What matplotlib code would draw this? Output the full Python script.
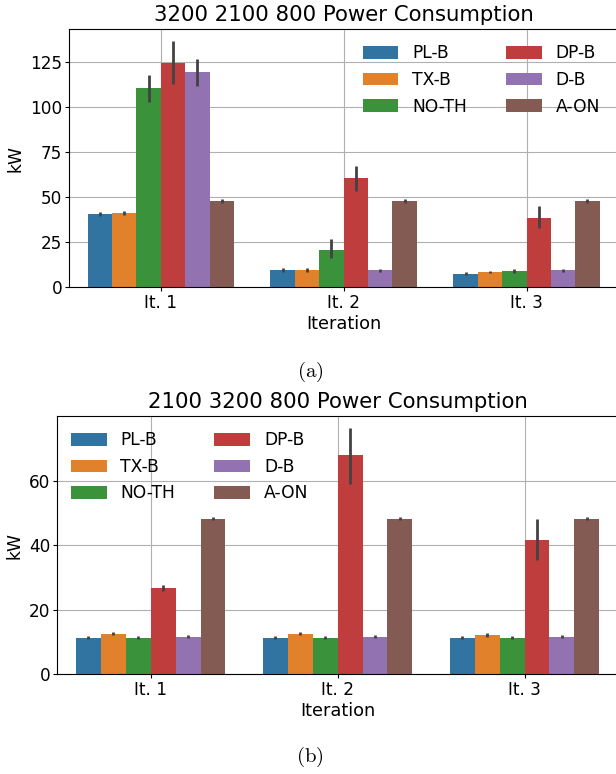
import numpy as np
import matplotlib
matplotlib.use("Agg")
import matplotlib.pyplot as plt

plt.rcParams['mathtext.fontset'] = 'cm'

# Kategorien
iterations = ["It. 1", "It. 2", "It. 3"]
methods = ["PL-B", "TX-B", "NO-TH", "DP-B", "D-B", "A-ON"]
colors = ["#3274a1", "#e1812c", "#3a923a", "#c03d3e", "#9372b2", "#845b53"]

# (a) 3200 2100 800 -- Mittelwert, untere/obere Fehlergrenze je Methode
a_mean = [[40.7, 9.6, 7.4], [41.3, 9.6, 8.5], [110.7, 20.7, 9.1],
          [124.8, 60.7, 38.5], [119.6, 9.6, 9.6], [48.0, 48.0, 48.0]]
a_lo = [[39.6, 8.5, 6.6], [40.2, 8.5, 7.8], [103.1, 16.5, 8.0],
        [113.1, 53.5, 33.1], [112.0, 8.7, 8.7], [46.9, 46.9, 46.9]]
a_hi = [[41.9, 10.7, 8.3], [42.4, 10.7, 9.1], [118.0, 26.9, 10.2],
        [136.9, 67.4, 45.4], [126.9, 10.4, 10.4], [49.1, 49.1, 49.1]]

# (b) 2100 3200 800
b_mean = [[11.2, 11.2, 11.2], [12.4, 12.4, 12.1], [11.2, 11.2, 11.2],
          [26.7, 67.8, 41.7], [11.5, 11.5, 11.5], [48.2, 48.2, 48.2]]
b_lo = [[10.9, 10.9, 10.9], [12.0, 12.0, 11.6], [10.9, 10.9, 10.9],
        [25.8, 58.8, 35.4], [11.2, 11.2, 11.2], [47.6, 47.6, 47.6]]
b_hi = [[11.7, 11.7, 11.7], [12.9, 12.9, 12.6], [11.7, 11.7, 11.7],
        [27.7, 76.2, 48.2], [12.0, 12.0, 12.0], [48.8, 48.8, 48.8]]

fs = 12.2

def barplot(ax, mean, lo, hi, title, ymax, leg_anchor):
    x = np.arange(len(iterations))
    n = len(methods)
    w = 0.8 / n
    for i, m in enumerate(methods):
        xs = x - 0.4 + w * (i + 0.5)
        ax.bar(xs, mean[i], width=w, color=colors[i], label=m, zorder=2)
        ax.vlines(xs, lo[i], hi[i], color="#424242", lw=2, zorder=3)
    ax.set_xticks(x)
    ax.set_xticklabels(iterations)
    ax.set_xlim(-0.5, 2.5)
    ax.set_ylim(0, ymax)
    ax.set_axisbelow(True)
    ax.grid(True, color="#b0b0b0", lw=0.8)
    ax.tick_params(labelsize=fs, length=2.7, pad=2.2)
    ax.set_xlabel("Iteration", fontsize=12.8, labelpad=2)
    ax.set_ylabel("kW", fontsize=12.3)
    ax.set_title(title, fontsize=15.3)
    ax.legend(ncol=2, fontsize=12.3, frameon=False, loc="upper left",
              bbox_to_anchor=leg_anchor, borderaxespad=0,
              handlelength=2.1, handleheight=0.75, columnspacing=2.3)

fig = plt.figure(figsize=(6.16, 7.74), dpi=100)
ax1 = fig.add_axes([0.1125, 0.6288, 0.8907, 0.3333])
ax2 = fig.add_axes([0.0930, 0.1292, 0.9102, 0.3329])

barplot(ax1, a_mean, a_lo, a_hi, "3200 2100 800 Power Consumption", 143.3, (0.522, 0.968))
barplot(ax2, b_mean, b_lo, b_hi, "2100 3200 800 Power Consumption", 79.9, (0.012, 0.968))

fig.text(0.503, 1 - 372 / 774, r"$\mathrm{(a)}$", ha="center", va="center", fontsize=15)
fig.text(0.503, 1 - 757 / 774, r"$\mathrm{(b)}$", ha="center", va="center", fontsize=15)

fig.savefig("out.png", dpi=100)
